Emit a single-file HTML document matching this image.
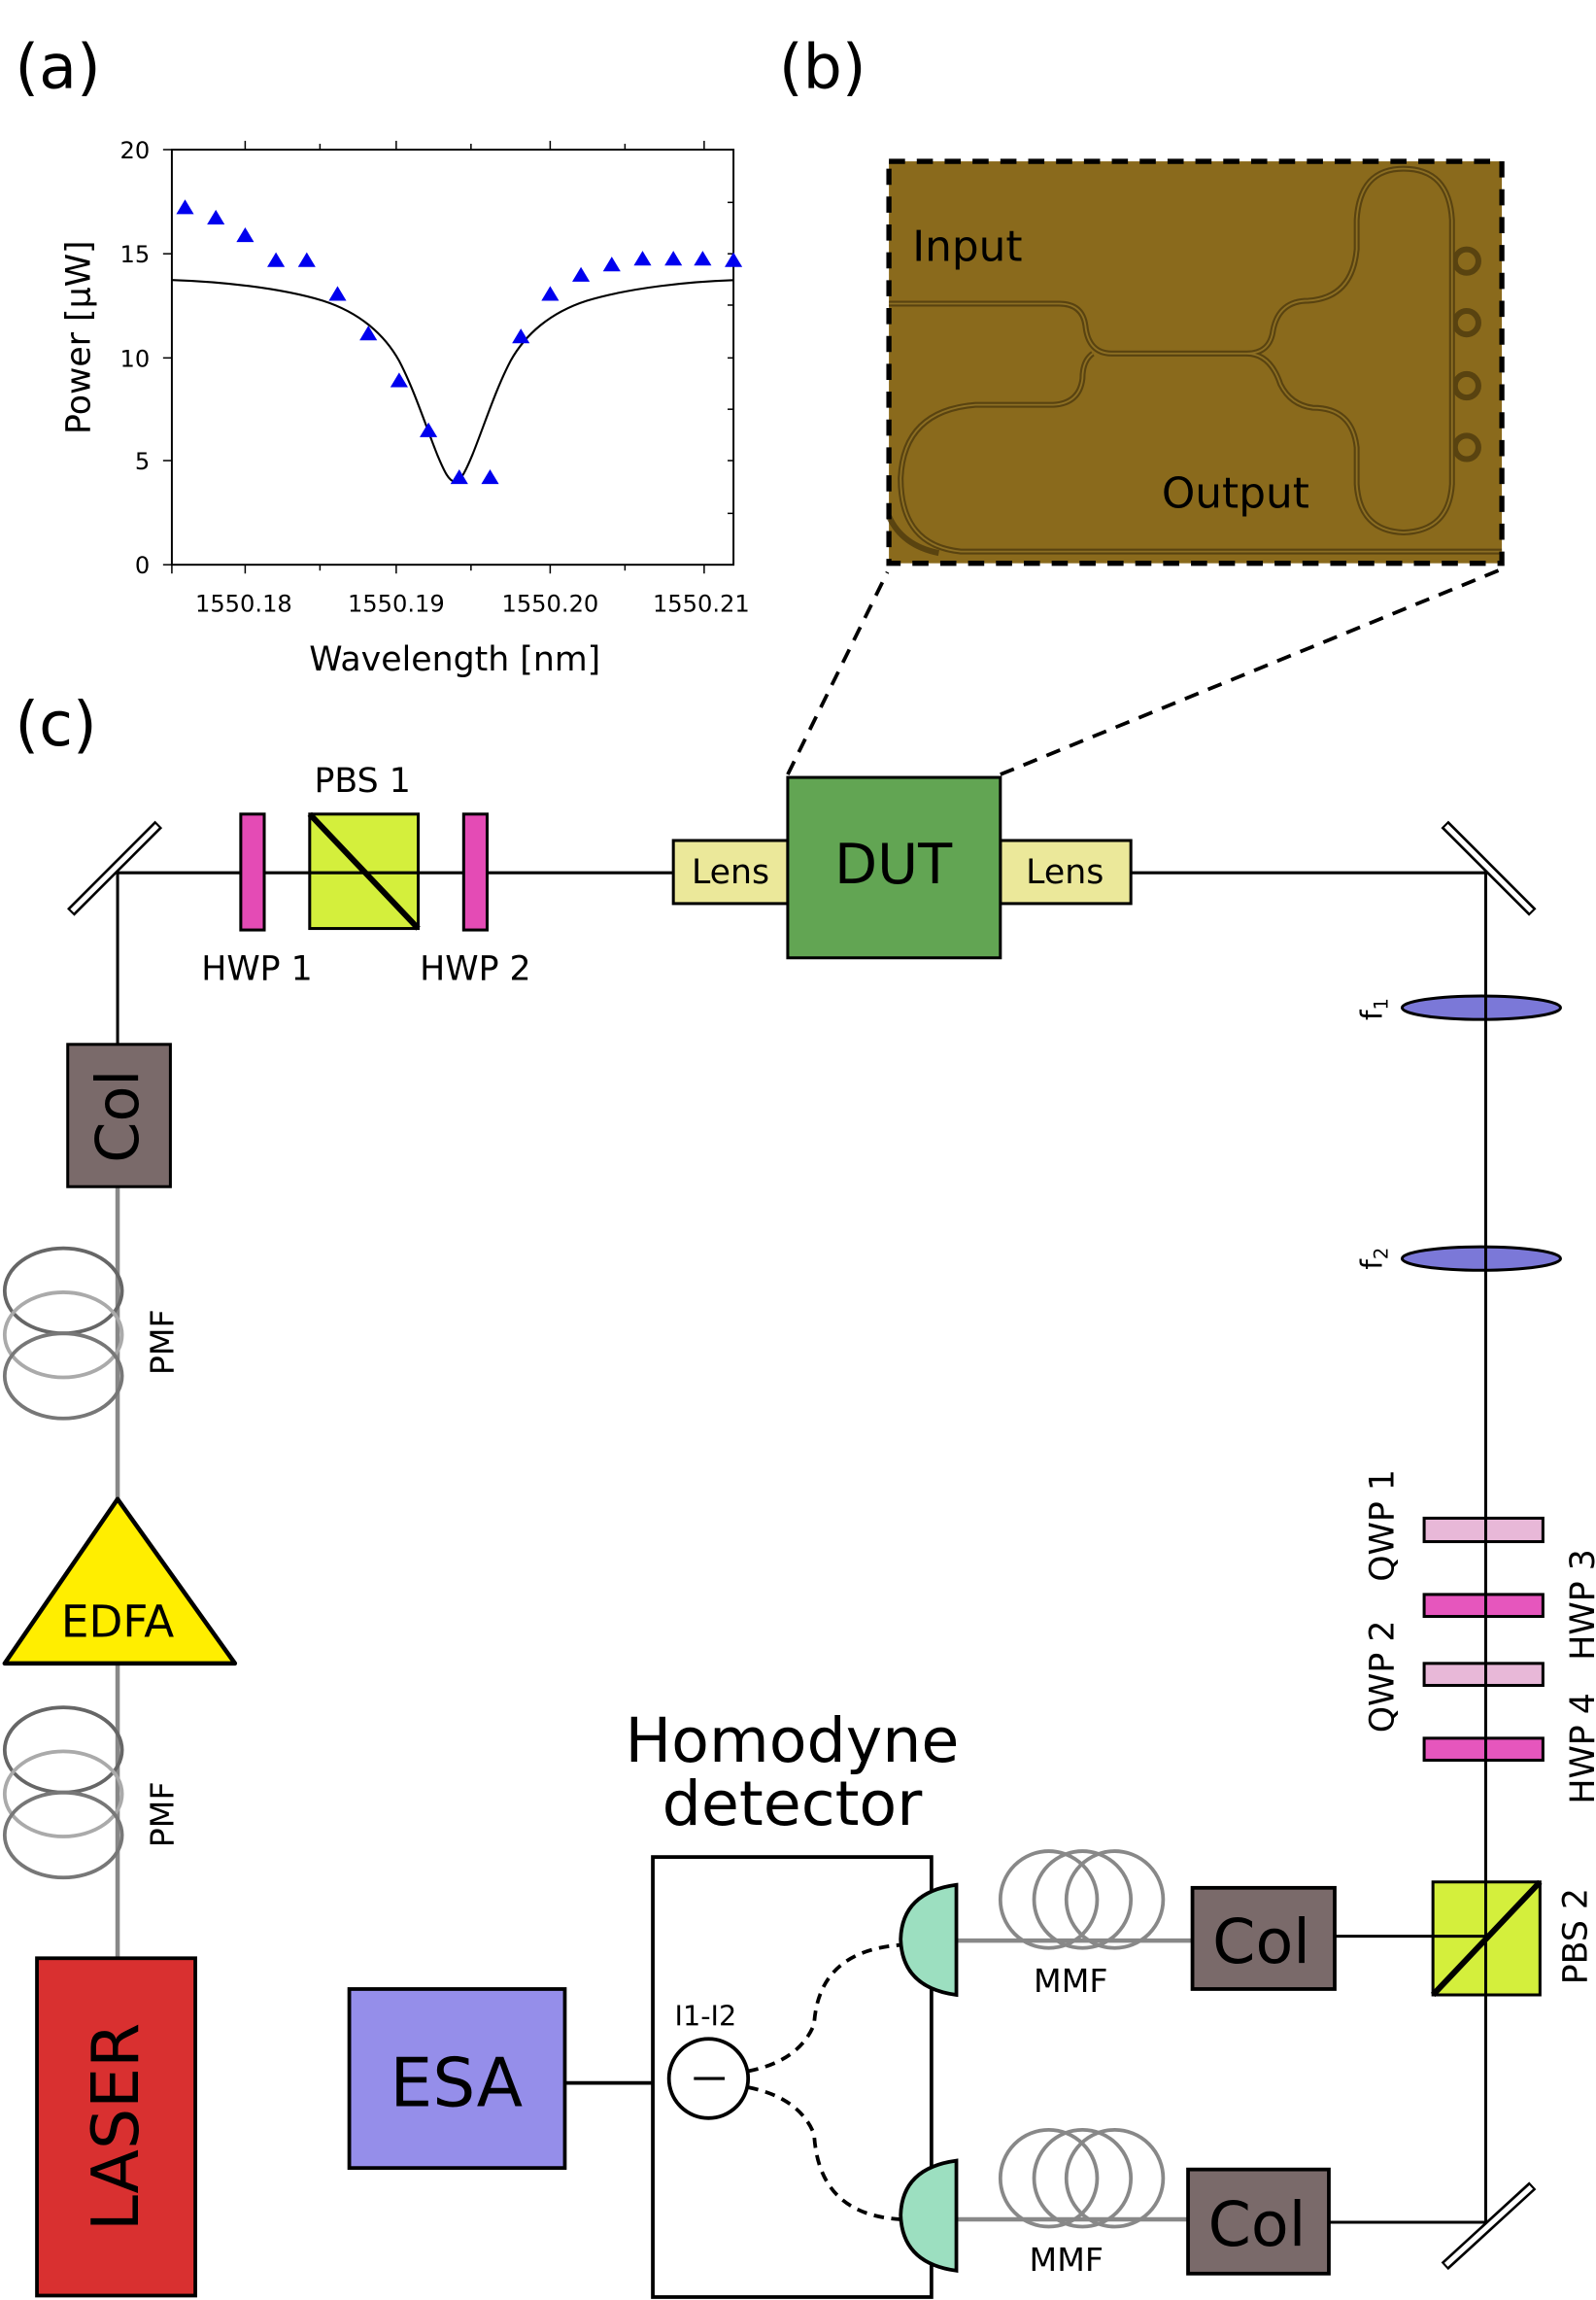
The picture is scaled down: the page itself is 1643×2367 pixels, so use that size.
<!DOCTYPE html>
<html><head><meta charset="utf-8"><style>
html,body{margin:0;padding:0;background:#fff}
svg{display:block}
text{font-family:"DejaVu Sans","Liberation Sans",sans-serif;fill:#000}
</style></head><body>
<svg width="1643" height="2367" viewBox="0 0 1088 1568" xmlns="http://www.w3.org/2000/svg">
<text x="10" y="60" font-size="42" font-family="Liberation Sans">(a)</text>
<text x="531" y="60" font-size="42" font-family="Liberation Sans">(b)</text>
<text x="10" y="508" font-size="42" font-family="Liberation Sans">(c)</text>

<rect x="117" y="102" width="383" height="283" fill="none" stroke="#000" stroke-width="1.3"/>
<g stroke="#000" stroke-width="1">
<line x1="167" y1="102" x2="167" y2="96"/><line x1="218" y1="102" x2="218" y2="98"/><line x1="270" y1="102" x2="270" y2="96"/><line x1="321" y1="102" x2="321" y2="98"/><line x1="375" y1="102" x2="375" y2="96"/><line x1="426" y1="102" x2="426" y2="98"/><line x1="480" y1="102" x2="480" y2="96"/>
<line x1="117" y1="385" x2="117" y2="391"/><line x1="167" y1="385" x2="167" y2="391"/><line x1="218" y1="385" x2="218" y2="389"/><line x1="270" y1="385" x2="270" y2="391"/><line x1="321" y1="385" x2="321" y2="389"/><line x1="375" y1="385" x2="375" y2="391"/><line x1="426" y1="385" x2="426" y2="389"/><line x1="480" y1="385" x2="480" y2="391"/>
<line x1="111" y1="102" x2="117" y2="102"/><line x1="111" y1="173" x2="117" y2="173"/><line x1="111" y1="244" x2="117" y2="244"/><line x1="111" y1="314" x2="117" y2="314"/><line x1="111" y1="385" x2="117" y2="385"/>
<line x1="500" y1="138" x2="496" y2="138"/><line x1="500" y1="173" x2="496" y2="173"/><line x1="500" y1="208" x2="496" y2="208"/><line x1="500" y1="244" x2="496" y2="244"/><line x1="500" y1="279" x2="496" y2="279"/><line x1="500" y1="314" x2="496" y2="314"/><line x1="500" y1="350" x2="496" y2="350"/>
</g>
<g font-size="16" text-anchor="end">
<text x="102" y="108">20</text><text x="102" y="179">15</text><text x="102" y="250">10</text><text x="102" y="320">5</text><text x="102" y="391">0</text>
</g>
<g font-size="16" text-anchor="middle">
<text x="166" y="417">1550.18</text><text x="270" y="417">1550.19</text><text x="375" y="417">1550.20</text><text x="478" y="417">1550.21</text>
</g>
<text x="310" y="457" font-size="23" text-anchor="middle">Wavelength [nm]</text>
<text transform="translate(61,230) rotate(-90)" font-size="23" text-anchor="middle">Power [μW]</text>
<path fill="none" stroke="#000" stroke-width="1.4" d="M117,190.9 C150,192 190,196 220,205 C245,213 262,228 272,246 C282,265 290,290 298,310 C303,322 306,328 310,328.4 C314,328 317,322 322,310 C330,290 338,265 348,246 C358,228 375,213 400,205 C430,196 470,192 500,191"/>
<g fill="#0000ee">
<path d="M126,136l-6,10h12z"/><path d="M147,143l-6,10h12z"/><path d="M167,155l-6,10h12z"/><path d="M188,172l-6,10h12z"/><path d="M209,172l-6,10h12z"/><path d="M230,195l-6,10h12z"/><path d="M251,222l-6,10h12z"/><path d="M272,254l-6,10h12z"/><path d="M292,288l-6,10h12z"/><path d="M313,320l-6,10h12z"/><path d="M334,320l-6,10h12z"/><path d="M355,224l-6,10h12z"/><path d="M375,195l-6,10h12z"/><path d="M396,182l-6,10h12z"/><path d="M417,175l-6,10h12z"/><path d="M438,171l-6,10h12z"/><path d="M459,171l-6,10h12z"/><path d="M479,171l-6,10h12z"/><path d="M500,172l-6,10h12z"/>
</g>

<rect x="606" y="110" width="418" height="274" fill="#8a6a1c"/>
<g fill="none" stroke="#4e3a0e" stroke-width="4" opacity="0.8">
<path d="M606,207 H722 Q738,207 740,222 Q742,241 758,241 H850 Q866,241 868,225 Q872,205 892,205 Q922,203 925,170 V150 Q927,115 957,115 Q988,115 990,150 V330 Q988,362 957,363 Q927,362 925,330 V305 Q922,278 895,278 Q880,276 873,262 Q866,241 850,241"/>
<path d="M745,241 Q738,246 738,258 Q736,275 718,276 H665 Q616,280 614,326 Q614,372 655,376 H1024"/>
<path d="M606,352 Q615,372 640,377"/>
<circle cx="1000" cy="178" r="8"/><circle cx="1000" cy="220" r="8"/><circle cx="1000" cy="263" r="8"/><circle cx="1000" cy="305" r="8"/>
</g>
<g fill="none" stroke="#9a7a28" stroke-width="1.2" opacity="0.8">
<path d="M606,207 H722 Q738,207 740,222 Q742,241 758,241 H850 Q866,241 868,225 Q872,205 892,205 Q922,203 925,170 V150 Q927,115 957,115 Q988,115 990,150 V330 Q988,362 957,363 Q927,362 925,330 V305 Q922,278 895,278 Q880,276 873,262 Q866,241 850,241"/>
<path d="M745,241 Q738,246 738,258 Q736,275 718,276 H665 Q616,280 614,326 Q614,372 655,376 H1024"/>
</g>
<rect x="606" y="110" width="418" height="274" fill="none" stroke="#000" stroke-width="3.5" stroke-dasharray="11,8"/>
<text x="622" y="178" font-size="29">Input</text>
<text x="792" y="346" font-size="29">Output</text>
<line x1="537" y1="528" x2="605" y2="390" stroke="#000" stroke-width="2.5" stroke-dasharray="10,7"/>
<line x1="682" y1="528" x2="1024" y2="388" stroke="#000" stroke-width="2.5" stroke-dasharray="10,7"/>

<line x1="80" y1="595" x2="1013" y2="595" stroke="#000" stroke-width="2"/>
<line x1="80" y1="595" x2="80" y2="712" stroke="#000" stroke-width="2"/>
<line x1="1013" y1="595" x2="1013" y2="1515" stroke="#000" stroke-width="2"/>
<line x1="910" y1="1320" x2="1013" y2="1320" stroke="#000" stroke-width="2"/>
<line x1="906" y1="1515" x2="1013" y2="1515" stroke="#000" stroke-width="2"/>
<g stroke="#000" stroke-width="7" stroke-linecap="butt"><line x1="48" y1="622" x2="108" y2="562"/><line x1="985" y1="562" x2="1045" y2="622"/><line x1="985" y1="1545" x2="1045" y2="1490"/></g>
<g stroke="#fff" stroke-width="3.5"><line x1="49" y1="621" x2="107" y2="563"/><line x1="986" y1="563" x2="1044" y2="621"/><line x1="986" y1="1544" x2="1044" y2="1491"/></g>

<rect x="164" y="555" width="16" height="79" fill="#e44bb5" stroke="#000" stroke-width="2"/>
<rect x="211" y="555" width="74" height="78" fill="#d4ef3c" stroke="#000" stroke-width="2"/>
<line x1="211" y1="555" x2="285" y2="633" stroke="#000" stroke-width="4"/>
<line x1="211" y1="595" x2="285" y2="595" stroke="#000" stroke-width="2"/>
<rect x="316" y="555" width="16" height="79" fill="#e44bb5" stroke="#000" stroke-width="2"/>
<text x="247" y="540" font-size="23" text-anchor="middle">PBS 1</text>
<text x="175" y="668" font-size="23" text-anchor="middle">HWP 1</text>
<text x="324" y="668" font-size="23" text-anchor="middle">HWP 2</text>

<rect x="459" y="573" width="78" height="43" fill="#ebe89a" stroke="#000" stroke-width="2"/>
<rect x="682" y="573" width="89" height="43" fill="#ebe89a" stroke="#000" stroke-width="2"/>
<rect x="537" y="530" width="145" height="123" fill="#62a553" stroke="#000" stroke-width="2"/>
<text x="498" y="602" font-size="23" text-anchor="middle">Lens</text>
<text x="726" y="602" font-size="23" text-anchor="middle">Lens</text>
<text x="609" y="602" font-size="38" text-anchor="middle">DUT</text>

<line x1="80" y1="809" x2="80" y2="1335" stroke="#888" stroke-width="3"/>
<rect x="46" y="712" width="70" height="97" fill="#7a6a6a" stroke="#000" stroke-width="2"/>
<text transform="translate(94,761) rotate(-90)" font-size="40" text-anchor="middle">Col</text>
<g fill="none" stroke-width="2.5">
<ellipse cx="43" cy="880" rx="40" ry="29" stroke="#666"/>
<ellipse cx="43" cy="910" rx="40" ry="29" stroke="#aaa"/>
<ellipse cx="43" cy="938" rx="40" ry="29" stroke="#777"/>
<ellipse cx="43" cy="1193" rx="40" ry="29" stroke="#666"/>
<ellipse cx="43" cy="1223" rx="40" ry="29" stroke="#aaa"/>
<ellipse cx="43" cy="1251" rx="40" ry="29" stroke="#777"/>
</g>
<text transform="translate(118,915) rotate(-90)" font-size="22" text-anchor="middle">PMF</text>
<text transform="translate(118,1237) rotate(-90)" font-size="22" text-anchor="middle">PMF</text>
<polygon points="80,1022 3,1134 160,1134" fill="#ffee00" stroke="#000" stroke-width="3" stroke-linejoin="round"/>
<text x="80" y="1116" font-size="30" text-anchor="middle">EDFA</text>
<rect x="25" y="1335" width="108" height="230" fill="#d93030" stroke="#000" stroke-width="2.5"/>
<text transform="translate(94,1450) rotate(-90)" font-size="44" text-anchor="middle">LASER</text>

<ellipse cx="1010" cy="687" rx="54" ry="8" fill="#7b78d8" stroke="#000" stroke-width="2"/>
<ellipse cx="1010" cy="858" rx="54" ry="8" fill="#7b78d8" stroke="#000" stroke-width="2"/>
<line x1="1013" y1="675" x2="1013" y2="870" stroke="#000" stroke-width="2"/>
<text transform="translate(942,688) rotate(-90)" font-size="20" text-anchor="middle">f<tspan font-size="13" dy="4">1</tspan></text>
<text transform="translate(942,858) rotate(-90)" font-size="20" text-anchor="middle">f<tspan font-size="13" dy="4">2</tspan></text>
<rect x="971" y="1035" width="81" height="16" fill="#e8b8d8" stroke="#000" stroke-width="2"/>
<rect x="971" y="1087" width="81" height="15" fill="#e656bd" stroke="#000" stroke-width="2"/>
<rect x="971" y="1134" width="81" height="15" fill="#e8b8d8" stroke="#000" stroke-width="2"/>
<rect x="971" y="1185" width="81" height="15" fill="#e656bd" stroke="#000" stroke-width="2"/>
<line x1="1013" y1="1030" x2="1013" y2="1205" stroke="#000" stroke-width="2"/>
<text transform="translate(950,1040) rotate(-90)" font-size="23" text-anchor="middle">QWP 1</text>
<text transform="translate(950,1143) rotate(-90)" font-size="23" text-anchor="middle">QWP 2</text>
<text transform="translate(1087,1094) rotate(-90)" font-size="23" text-anchor="middle">HWP 3</text>
<text transform="translate(1087,1192) rotate(-90)" font-size="23" text-anchor="middle">HWP 4</text>
<rect x="977" y="1283" width="73" height="77" fill="#d4ef3c" stroke="#000" stroke-width="2"/>
<line x1="977" y1="1320" x2="1013" y2="1320" stroke="#000" stroke-width="2"/>
<line x1="1013" y1="1283" x2="1013" y2="1360" stroke="#000" stroke-width="2"/>
<line x1="977" y1="1360" x2="1050" y2="1283" stroke="#000" stroke-width="4"/>
<text transform="translate(1082,1320) rotate(-90)" font-size="23" text-anchor="middle">PBS 2</text>

<line x1="652" y1="1323" x2="813" y2="1323" stroke="#888" stroke-width="3"/>
<line x1="652" y1="1513" x2="810" y2="1513" stroke="#888" stroke-width="3"/>
<g fill="none" stroke="#888" stroke-width="2.5">
<circle cx="715" cy="1295" r="33"/><circle cx="738" cy="1295" r="33"/><circle cx="760" cy="1295" r="33"/>
<circle cx="715" cy="1485" r="33"/><circle cx="738" cy="1485" r="33"/><circle cx="760" cy="1485" r="33"/>
</g>
<text x="730" y="1358" font-size="22" text-anchor="middle">MMF</text>
<text x="727" y="1548" font-size="22" text-anchor="middle">MMF</text>
<rect x="813" y="1287" width="97" height="69" fill="#7a6a6a" stroke="#000" stroke-width="2.5"/>
<text x="860" y="1338" font-size="42" text-anchor="middle">Col</text>
<rect x="810" y="1479" width="96" height="71" fill="#7a6a6a" stroke="#000" stroke-width="2.5"/>
<text x="857" y="1531" font-size="42" text-anchor="middle">Col</text>

<text x="540" y="1201" font-size="42" text-anchor="middle">Homodyne</text>
<text x="540" y="1244" font-size="42" text-anchor="middle">detector</text>
<rect x="445" y="1266" width="190" height="300" fill="#fff" stroke="#000" stroke-width="2.5"/>
<path d="M652,1285 V1360 Q615,1355 614,1322 Q615,1290 652,1285 Z" fill="#9cdfc0" stroke="#000" stroke-width="2.5"/>
<path d="M652,1473 V1548 Q615,1543 614,1510 Q615,1478 652,1473 Z" fill="#9cdfc0" stroke="#000" stroke-width="2.5"/>
<circle cx="483" cy="1417" r="27" fill="#fff" stroke="#000" stroke-width="2.5"/>
<line x1="473" y1="1417" x2="494" y2="1417" stroke="#000" stroke-width="2"/>
<text x="481" y="1381" font-size="19" text-anchor="middle">I1-I2</text>
<path d="M510,1412 Q545,1405 555,1380 Q558,1330 614,1326" fill="none" stroke="#000" stroke-width="2.5" stroke-dasharray="7,5"/>
<path d="M510,1423 Q545,1430 555,1455 Q558,1510 614,1513" fill="none" stroke="#000" stroke-width="2.5" stroke-dasharray="7,5"/>
<line x1="385" y1="1420" x2="445" y2="1420" stroke="#000" stroke-width="2.5"/>
<rect x="238" y="1356" width="147" height="122" fill="#958eea" stroke="#000" stroke-width="2.5"/>
<text x="311" y="1436" font-size="46" text-anchor="middle">ESA</text>
</svg>
</body></html>
